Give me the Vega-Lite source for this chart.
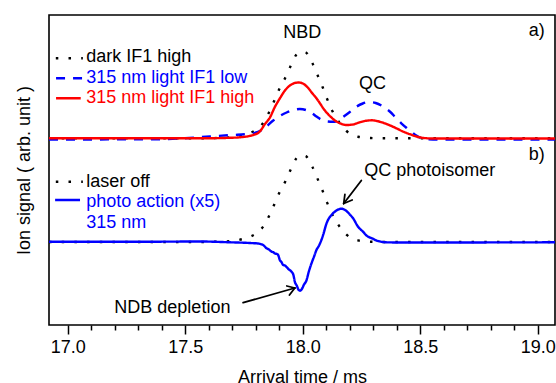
{
  "$schema": "https://vega.github.io/schema/vega-lite/v6.json",
  "width": 506,
  "height": 310,
  "autosize": {"type": "none"},
  "padding": {"left": 49, "top": 15, "right": 1, "bottom": 58},
  "config": {
    "font": "Liberation Sans",
    "view": {"stroke": "black", "strokeWidth": 1.6},
    "axis": {
      "domain": false, "grid": false,
      "labelFont": "Liberation Sans", "titleFont": "Liberation Sans",
      "labelFontSize": 18, "titleFontSize": 18, "titleFontWeight": "normal",
      "labelColor": "black", "titleColor": "black", "tickColor": "black"
    }
  },
  "datasets": {
    "curves": [
      {"s": "darkA", "t": 16.920, "v": 186.7}, {"s": "darkA", "t": 17.562, "v": 186.7}, {"s": "darkA", "t": 17.690, "v": 187.5},
      {"s": "darkA", "t": 17.741, "v": 189.5}, {"s": "darkA", "t": 17.775, "v": 192}, {"s": "darkA", "t": 17.809, "v": 196.5},
      {"s": "darkA", "t": 17.834, "v": 203}, {"s": "darkA", "t": 17.857, "v": 213}, {"s": "darkA", "t": 17.878, "v": 224},
      {"s": "darkA", "t": 17.899, "v": 235.5}, {"s": "darkA", "t": 17.925, "v": 247}, {"s": "darkA", "t": 17.948, "v": 259},
      {"s": "darkA", "t": 17.973, "v": 270.5}, {"s": "darkA", "t": 17.994, "v": 273.5}, {"s": "darkA", "t": 18.013, "v": 272.5},
      {"s": "darkA", "t": 18.041, "v": 261.7}, {"s": "darkA", "t": 18.062, "v": 250.3}, {"s": "darkA", "t": 18.084, "v": 238},
      {"s": "darkA", "t": 18.103, "v": 226.3}, {"s": "darkA", "t": 18.125, "v": 214.3}, {"s": "darkA", "t": 18.153, "v": 203.3},
      {"s": "darkA", "t": 18.186, "v": 194}, {"s": "darkA", "t": 18.235, "v": 188.3}, {"s": "darkA", "t": 18.289, "v": 187},
      {"s": "darkA", "t": 18.340, "v": 186.7}, {"s": "darkA", "t": 19.073, "v": 186.7},

      {"s": "offB", "t": 16.920, "v": 83.0}, {"s": "offB", "t": 17.562, "v": 83.0}, {"s": "offB", "t": 17.690, "v": 83.8},
      {"s": "offB", "t": 17.741, "v": 85.8}, {"s": "offB", "t": 17.775, "v": 88.3}, {"s": "offB", "t": 17.809, "v": 92.8},
      {"s": "offB", "t": 17.834, "v": 99.3}, {"s": "offB", "t": 17.857, "v": 109.3}, {"s": "offB", "t": 17.878, "v": 120.3},
      {"s": "offB", "t": 17.899, "v": 131.8}, {"s": "offB", "t": 17.925, "v": 143.3}, {"s": "offB", "t": 17.948, "v": 155.3},
      {"s": "offB", "t": 17.973, "v": 166.8}, {"s": "offB", "t": 17.994, "v": 169.8}, {"s": "offB", "t": 18.013, "v": 168.8},
      {"s": "offB", "t": 18.041, "v": 158.0}, {"s": "offB", "t": 18.062, "v": 146.6}, {"s": "offB", "t": 18.084, "v": 134.3},
      {"s": "offB", "t": 18.103, "v": 122.6}, {"s": "offB", "t": 18.125, "v": 110.6}, {"s": "offB", "t": 18.153, "v": 99.6},
      {"s": "offB", "t": 18.186, "v": 90.3}, {"s": "offB", "t": 18.235, "v": 84.6}, {"s": "offB", "t": 18.289, "v": 83.3},
      {"s": "offB", "t": 18.340, "v": 83.0}, {"s": "offB", "t": 19.073, "v": 83.0},

      {"s": "lowA", "t": 16.920, "v": 185.5}, {"s": "lowA", "t": 17.350, "v": 185.7}, {"s": "lowA", "t": 17.477, "v": 186.5},
      {"s": "lowA", "t": 17.605, "v": 188.5}, {"s": "lowA", "t": 17.703, "v": 190}, {"s": "lowA", "t": 17.754, "v": 190.7},
      {"s": "lowA", "t": 17.789, "v": 191.7}, {"s": "lowA", "t": 17.831, "v": 195.7}, {"s": "lowA", "t": 17.874, "v": 204.5},
      {"s": "lowA", "t": 17.902, "v": 209}, {"s": "lowA", "t": 17.931, "v": 212.5}, {"s": "lowA", "t": 17.958, "v": 214.7},
      {"s": "lowA", "t": 17.987, "v": 216}, {"s": "lowA", "t": 18.013, "v": 215}, {"s": "lowA", "t": 18.038, "v": 212},
      {"s": "lowA", "t": 18.058, "v": 208.5}, {"s": "lowA", "t": 18.081, "v": 205}, {"s": "lowA", "t": 18.106, "v": 203.5},
      {"s": "lowA", "t": 18.129, "v": 203.2}, {"s": "lowA", "t": 18.149, "v": 204.5}, {"s": "lowA", "t": 18.174, "v": 208.5},
      {"s": "lowA", "t": 18.200, "v": 213}, {"s": "lowA", "t": 18.228, "v": 218.3}, {"s": "lowA", "t": 18.255, "v": 221.5},
      {"s": "lowA", "t": 18.285, "v": 223}, {"s": "lowA", "t": 18.310, "v": 222}, {"s": "lowA", "t": 18.341, "v": 218.5},
      {"s": "lowA", "t": 18.370, "v": 213.5}, {"s": "lowA", "t": 18.395, "v": 207.5}, {"s": "lowA", "t": 18.419, "v": 201.7},
      {"s": "lowA", "t": 18.442, "v": 197}, {"s": "lowA", "t": 18.462, "v": 193.3}, {"s": "lowA", "t": 18.483, "v": 189.5},
      {"s": "lowA", "t": 18.497, "v": 187.7}, {"s": "lowA", "t": 18.526, "v": 185.8}, {"s": "lowA", "t": 18.582, "v": 185.5},
      {"s": "lowA", "t": 19.073, "v": 185.5},

      {"s": "highA", "t": 16.920, "v": 186.7}, {"s": "highA", "t": 17.562, "v": 186.7}, {"s": "highA", "t": 17.690, "v": 187.2},
      {"s": "highA", "t": 17.732, "v": 187.7}, {"s": "highA", "t": 17.789, "v": 190}, {"s": "highA", "t": 17.817, "v": 193.5},
      {"s": "highA", "t": 17.839, "v": 201}, {"s": "highA", "t": 17.860, "v": 207.5}, {"s": "highA", "t": 17.881, "v": 218},
      {"s": "highA", "t": 17.902, "v": 226.5}, {"s": "highA", "t": 17.924, "v": 234.5}, {"s": "highA", "t": 17.945, "v": 239.5},
      {"s": "highA", "t": 17.966, "v": 242}, {"s": "highA", "t": 17.983, "v": 242.5}, {"s": "highA", "t": 18.000, "v": 241.5},
      {"s": "highA", "t": 18.021, "v": 237.5}, {"s": "highA", "t": 18.041, "v": 231.5}, {"s": "highA", "t": 18.058, "v": 226.7},
      {"s": "highA", "t": 18.072, "v": 222}, {"s": "highA", "t": 18.089, "v": 216}, {"s": "highA", "t": 18.115, "v": 209},
      {"s": "highA", "t": 18.143, "v": 203.5}, {"s": "highA", "t": 18.166, "v": 201}, {"s": "highA", "t": 18.187, "v": 200},
      {"s": "highA", "t": 18.213, "v": 200.5}, {"s": "highA", "t": 18.242, "v": 202.7}, {"s": "highA", "t": 18.268, "v": 204.2},
      {"s": "highA", "t": 18.292, "v": 204.7}, {"s": "highA", "t": 18.315, "v": 204}, {"s": "highA", "t": 18.341, "v": 202.3},
      {"s": "highA", "t": 18.370, "v": 199.7}, {"s": "highA", "t": 18.398, "v": 196.7}, {"s": "highA", "t": 18.426, "v": 193.5},
      {"s": "highA", "t": 18.455, "v": 190.8}, {"s": "highA", "t": 18.497, "v": 187.7}, {"s": "highA", "t": 18.554, "v": 186.5},
      {"s": "highA", "t": 19.073, "v": 186.5},

      {"s": "actB", "t": 16.920, "v": 83.3}, {"s": "actB", "t": 17.350, "v": 83.3}, {"s": "actB", "t": 17.562, "v": 83.5},
      {"s": "actB", "t": 17.690, "v": 82.7}, {"s": "actB", "t": 17.775, "v": 82}, {"s": "actB", "t": 17.809, "v": 81.5},
      {"s": "actB", "t": 17.831, "v": 80}, {"s": "actB", "t": 17.846, "v": 76.7}, {"s": "actB", "t": 17.856, "v": 75.5},
      {"s": "actB", "t": 17.867, "v": 73.3}, {"s": "actB", "t": 17.875, "v": 72.7}, {"s": "actB", "t": 17.881, "v": 71.5},
      {"s": "actB", "t": 17.890, "v": 71}, {"s": "actB", "t": 17.896, "v": 69.5}, {"s": "actB", "t": 17.902, "v": 65},
      {"s": "actB", "t": 17.909, "v": 63}, {"s": "actB", "t": 17.916, "v": 60}, {"s": "actB", "t": 17.924, "v": 59.5},
      {"s": "actB", "t": 17.931, "v": 58}, {"s": "actB", "t": 17.941, "v": 55.5}, {"s": "actB", "t": 17.952, "v": 53.3},
      {"s": "actB", "t": 17.960, "v": 50}, {"s": "actB", "t": 17.966, "v": 43.3}, {"s": "actB", "t": 17.975, "v": 39},
      {"s": "actB", "t": 17.981, "v": 35.5}, {"s": "actB", "t": 17.988, "v": 34.3}, {"s": "actB", "t": 17.996, "v": 36},
      {"s": "actB", "t": 18.004, "v": 40}, {"s": "actB", "t": 18.016, "v": 45}, {"s": "actB", "t": 18.025, "v": 53},
      {"s": "actB", "t": 18.037, "v": 61.7}, {"s": "actB", "t": 18.047, "v": 68}, {"s": "actB", "t": 18.058, "v": 75},
      {"s": "actB", "t": 18.068, "v": 79}, {"s": "actB", "t": 18.079, "v": 85}, {"s": "actB", "t": 18.087, "v": 90.5},
      {"s": "actB", "t": 18.101, "v": 101.7}, {"s": "actB", "t": 18.112, "v": 107}, {"s": "actB", "t": 18.122, "v": 110},
      {"s": "actB", "t": 18.140, "v": 114}, {"s": "actB", "t": 18.164, "v": 116.3}, {"s": "actB", "t": 18.183, "v": 114.5},
      {"s": "actB", "t": 18.200, "v": 110.5}, {"s": "actB", "t": 18.214, "v": 106.7}, {"s": "actB", "t": 18.235, "v": 98.3},
      {"s": "actB", "t": 18.256, "v": 93.3}, {"s": "actB", "t": 18.271, "v": 89.5}, {"s": "actB", "t": 18.299, "v": 86.2},
      {"s": "actB", "t": 18.313, "v": 84.5}, {"s": "actB", "t": 18.356, "v": 82.7}, {"s": "actB", "t": 18.412, "v": 82.5},
      {"s": "actB", "t": 19.073, "v": 82.7}
    ],
    "legsym": [
      {"s": "darkA", "t": 16.949, "t2": 17.064, "v": 266.7},
      {"s": "lowA", "t": 16.950, "t2": 17.064, "v": 246.7},
      {"s": "highA", "t": 16.950, "t2": 17.055, "v": 226.7},
      {"s": "offB", "t": 16.949, "t2": 17.064, "v": 143.3},
      {"s": "actB", "t": 16.946, "t2": 17.052, "v": 125}
    ],
    "legtext": [
      {"s": "darkA", "t": 17.078, "v": 262.7, "label": "dark IF1 high"},
      {"s": "lowA", "t": 17.078, "v": 242.3, "label": "315 nm light IF1 low"},
      {"s": "highA", "t": 17.078, "v": 221.7, "label": "315 nm light IF1 high"},
      {"s": "offB", "t": 17.078, "v": 137.7, "label": "laser off"},
      {"s": "actB", "t": 17.078, "v": 118.3, "label": "photo action (x5)"},
      {"s": "actB", "t": 17.078, "v": 96.7, "label": "315 nm"}
    ],
    "notes": [
      {"pos": "center", "t": 17.998, "v": 286.7, "label": "NBD"},
      {"pos": "center", "t": 18.297, "v": 235.7, "label": "QC"},
      {"pos": "right", "t": 19.029, "v": 289, "label": "a)"},
      {"pos": "right", "t": 19.029, "v": 165, "label": "b)"},
      {"pos": "left", "t": 18.261, "v": 149.3, "label": "QC photoisomer"},
      {"pos": "left", "t": 17.198, "v": 12.3, "label": "NDB depletion"}
    ],
    "arrows": [
      {"t": 18.249, "v": 144.5, "t2": 18.174, "v2": 121.5},
      {"t": 18.174, "v": 121.5, "t2": 18.210, "v2": 125},
      {"t": 18.174, "v": 121.5, "t2": 18.179, "v2": 130.5},
      {"t": 17.746, "v": 22.3, "t2": 17.966, "v2": 37},
      {"t": 17.966, "v": 37, "t2": 17.932, "v2": 39},
      {"t": 17.966, "v": 37, "t2": 17.943, "v2": 30}
    ]
  },
  "encoding": {
    "x": {
      "field": "t", "type": "quantitative",
      "scale": {"domain": [16.92, 19.073], "nice": false, "zero": false},
      "axis": {
        "title": "Arrival time / ms",
        "values": [17, 17.1, 17.2, 17.3, 17.4, 17.5, 17.6, 17.7, 17.8, 17.9, 18, 18.1, 18.2, 18.3, 18.4, 18.5, 18.6, 18.7, 18.8, 18.9, 19],
        "labelExpr": "abs(datum.value*2 - round(datum.value*2)) < 0.01 ? format(datum.value, '.1f') : ''",
        "tickSize": {"condition": {"test": "abs(datum.value*2 - round(datum.value*2)) < 0.01", "value": 9}, "value": 5},
        "tickWidth": 1.5,
        "labelPadding": 4.7,
        "titlePadding": 12,
        "labelFlush": false,
        "labelOverlap": false
      }
    },
    "y": {
      "field": "v", "type": "quantitative",
      "scale": {"domain": [0, 310], "nice": false, "zero": false},
      "axis": {"title": "Ion signal ( arb. unit )", "labels": false, "ticks": false, "domain": false, "titlePadding": 16}
    }
  },
  "layer": [
    {
      "data": {"name": "curves"},
      "mark": {"type": "line", "strokeWidth": 2.4, "interpolate": "monotone", "strokeCap": "butt", "strokeJoin": "round"},
      "encoding": {
        "color": {"field": "s", "type": "nominal", "legend": null,
          "scale": {"domain": ["darkA", "offB", "lowA", "highA", "actB"], "range": ["#000000", "#000000", "#0000ff", "#ff0000", "#0000ff"]}},
        "strokeDash": {"field": "s", "type": "nominal", "legend": null,
          "scale": {"domain": ["darkA", "offB", "lowA", "highA", "actB"], "range": [[2.5, 10.2], [2.5, 10.2], [9, 8], [1, 0], [1, 0]]}}
      }
    },
    {
      "data": {"name": "legsym"},
      "mark": {"type": "rule", "strokeWidth": 2.4, "strokeCap": "butt"},
      "encoding": {
        "x2": {"field": "t2"},
        "color": {"field": "s", "type": "nominal", "legend": null,
          "scale": {"domain": ["darkA", "offB", "lowA", "highA", "actB"], "range": ["#000000", "#000000", "#0000ff", "#ff0000", "#0000ff"]}},
        "strokeDash": {"field": "s", "type": "nominal", "legend": null,
          "scale": {"domain": ["darkA", "offB", "lowA", "highA", "actB"], "range": [[2.5, 10.2], [2.5, 10.2], [9, 8], [1, 0], [1, 0]]}}
      }
    },
    {
      "data": {"name": "legtext"},
      "mark": {"type": "text", "align": "left", "baseline": "alphabetic", "fontSize": 18, "font": "Liberation Sans"},
      "encoding": {
        "text": {"field": "label"},
        "color": {"field": "s", "type": "nominal", "legend": null,
          "scale": {"domain": ["darkA", "offB", "lowA", "highA", "actB"], "range": ["#000000", "#000000", "#0000ff", "#ff0000", "#0000ff"]}}
      }
    },
    {
      "data": {"name": "notes"},
      "transform": [{"filter": "datum.pos === 'left'"}],
      "mark": {"type": "text", "align": "left", "baseline": "alphabetic", "fontSize": 18, "font": "Liberation Sans", "color": "black"},
      "encoding": {"text": {"field": "label"}}
    },
    {
      "data": {"name": "notes"},
      "transform": [{"filter": "datum.pos === 'center'"}],
      "mark": {"type": "text", "align": "center", "baseline": "alphabetic", "fontSize": 18, "font": "Liberation Sans", "color": "black"},
      "encoding": {"text": {"field": "label"}}
    },
    {
      "data": {"name": "notes"},
      "transform": [{"filter": "datum.pos === 'right'"}],
      "mark": {"type": "text", "align": "right", "baseline": "alphabetic", "fontSize": 18, "font": "Liberation Sans", "color": "black"},
      "encoding": {"text": {"field": "label"}}
    },
    {
      "data": {"name": "arrows"},
      "mark": {"type": "rule", "strokeWidth": 1.8, "color": "black", "strokeCap": "round"},
      "encoding": {"x2": {"field": "t2"}, "y2": {"field": "v2"}}
    }
  ]
}
